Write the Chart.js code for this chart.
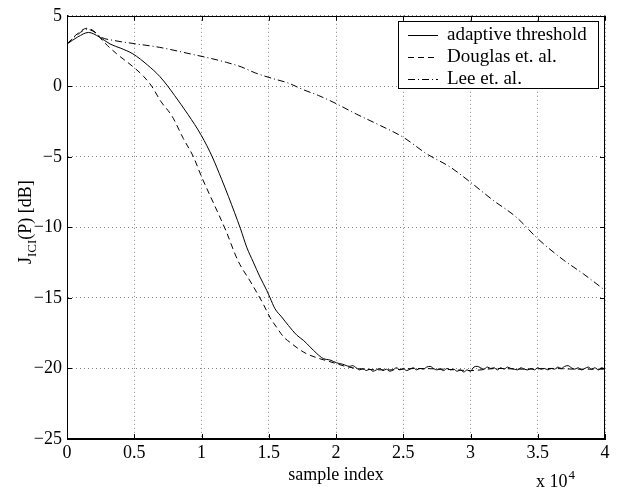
<!DOCTYPE html>
<html>
<head>
<meta charset="utf-8">
<script src="https://cdn.jsdelivr.net/npm/chart.js@4/dist/chart.umd.min.js"></script>
<style>
  body { margin: 0; background: #fff; }
  canvas { display: block; }
</style>
</head>
<body>
<canvas id="chart" width="619" height="488"></canvas>
<script>
// Datos (indice de muestra, dB)
const adaptiveX = [0, 800, 1600, 2400, 3200, 4000, 4900, 6000, 6900, 7500, 8000, 9000, 10000, 10800, 11500, 12000, 12900, 13360, 13850, 14350, 14850, 15100, 15460, 15960, 16450, 17100, 17570, 18070, 18570, 19060, 19550, 20050, 20500,
  21000, 21250, 21500, 21750, 22000, 22250, 22500, 22750, 23000, 23250, 23500, 23750, 24000, 24250, 24500, 24750, 25000, 25250, 25500, 25750, 26000, 26250, 26500, 26750, 27000, 27250, 27500, 27750, 28000, 28250, 28500, 28750, 29000, 29250, 29500, 29750, 30000, 30250, 30500, 30750, 31000, 31250, 31500, 31750, 32000, 32250, 32500, 32750, 33000, 33250, 33500, 33750, 34000, 34250, 34500, 34750, 35000, 35250, 35500, 35750, 36000, 36250, 36500, 36750, 37000, 37250, 37500, 37750, 38000, 38250, 38500, 38750, 39000, 39250, 39500, 39750, 40000];
const adaptiveY = [3.0, 3.5, 3.82, 3.5, 3.0, 2.7, 2.3, 1.5, 0.7, 0.0, -0.65, -2.0, -3.5, -5.0, -6.6, -7.8, -10.1, -11.4, -12.46, -13.52, -14.46, -15.0, -15.76, -16.35, -16.94, -17.65, -18.0, -18.47, -18.94, -19.3, -19.4, -19.6, -19.7,
  -19.85, -19.8, -19.95, -20.1, -20.0, -20.15, -20.05, -20.2, -20.1, -20.0, -20.15, -20.05, -20.2, -20.1, -19.95, -20.1, -20.0, -20.15, -20.05, -19.95, -20.1, -20.0, -20.05, -19.9, -19.85, -20.0, -20.1, -20.05, -20.15, -20.0, -20.1, -20.05, -20.2, -20.1, -20.25, -20.1, -20.2, -19.9, -19.85, -19.95, -20.05, -19.9, -20.0, -19.95, -20.1, -19.95, -20.05, -19.9, -20.0, -20.05, -20.1, -19.95, -20.05, -20.1, -20.0, -20.1, -19.95, -20.05, -20.0, -20.1, -20.0, -20.05, -19.9, -20.0, -19.85, -19.8, -19.95, -20.05, -19.95, -20.1, -20.0, -19.9, -20.05, -19.95, -20.1, -19.95, -20.05];

const douglasX = [0, 800, 1500, 2200, 2500, 3000, 3700, 4300, 4900, 5700, 6300, 7000, 7800, 8650, 9400, 10000, 11000, 11800, 12700, 13700, 14600, 15100, 15600, 16100, 16650, 17200, 17800, 18600, 19300, 20000, 20700, 22000, 24000, 26000, 28000, 30000, 32000, 34000, 36000, 38000, 40000];
const douglasY = [3.0, 3.75, 4.12, 3.75, 3.4, 2.9, 2.3, 1.85, 1.4, 0.7, 0.0, -1.1, -2.1, -3.7, -5.0, -6.4, -8.5, -10.2, -12.34, -13.94, -15.45, -16.4, -17.1, -17.76, -18.2, -18.6, -18.95, -19.25, -19.45, -19.65, -19.85, -20.05, -20.1, -20.0, -20.05, -20.15, -20.0, -20.05, -20.0, -20.05, -20.05];

const leeX = [0, 700, 1500, 2200, 2500, 3500, 4900, 6900, 9400, 10600, 11850, 12950, 14000, 15300, 16400, 17600, 18700, 19850, 21500, 23300, 25000, 26750, 28500, 30000, 31700, 33400, 35000, 36900, 38400, 40000];
const leeY = [3.0, 3.6, 4.05, 3.75, 3.5, 3.25, 3.04, 2.76, 2.25, 2.0, 1.7, 1.38, 0.95, 0.55, 0.25, -0.25, -0.65, -1.15, -1.96, -2.78, -3.61, -4.79, -5.73, -6.8, -8.09, -9.27, -10.8, -12.3, -13.3, -14.46];

const seriesLabels = ['adaptive threshold', 'Douglas et. al.', 'Lee et. al.'];
const xTicks = [0, 5000, 10000, 15000, 20000, 25000, 30000, 35000, 40000];
const yTicks = [-25, -20, -15, -10, -5, 0, 5];

const serif = 'Liberation Serif';

function toPoints(xs, ys) {
  return xs.map((x, i) => ({ x: x, y: ys[i] }));
}

// Marco, marcas hacia dentro, leyenda y etiquetas especiales
const matlabStyle = {
  id: 'matlabStyle',
  afterDraw(chart) {
    const ctx = chart.ctx;
    const a = chart.chartArea;
    const xs = chart.scales.x;
    const ys = chart.scales.y;
    ctx.save();

    // caja
    ctx.strokeStyle = '#000';
    ctx.lineWidth = 1;
    ctx.strokeRect(Math.round(a.left) + 0.5, Math.round(a.top) + 0.5,
      Math.round(a.right - a.left) - 1, Math.round(a.bottom - a.top) - 1);

    // marcas
    const tl = 5;
    ctx.beginPath();
    xTicks.forEach(v => {
      const px = Math.round(xs.getPixelForValue(v)) + 0.5;
      ctx.moveTo(px, a.bottom); ctx.lineTo(px, a.bottom - tl);
      ctx.moveTo(px, a.top); ctx.lineTo(px, a.top + tl);
    });
    yTicks.forEach(v => {
      const py = Math.round(ys.getPixelForValue(v)) + 0.5;
      ctx.moveTo(a.left, py); ctx.lineTo(a.left + tl, py);
      ctx.moveTo(a.right, py); ctx.lineTo(a.right - tl, py);
    });
    ctx.stroke();

    // etiqueta del eje y con subindice
    ctx.fillStyle = '#000';
    ctx.translate(31, 264);
    ctx.rotate(-Math.PI / 2);
    ctx.textBaseline = 'alphabetic';
    ctx.textAlign = 'left';
    ctx.font = '18px "' + serif + '"';
    ctx.fillText('J', 0, 0);
    let w = ctx.measureText('J').width;
    ctx.font = '13px "' + serif + '"';
    ctx.fillText('ICI', w, 5);
    w += ctx.measureText('ICI').width;
    ctx.font = '18px "' + serif + '"';
    ctx.fillText('(P) [dB]', w, 0);
    ctx.setTransform(1, 0, 0, 1, 0, 0);

    // multiplicador x 10^4
    ctx.font = '18px "' + serif + '"';
    ctx.fillText('x 10', 536, 487);
    const wm = ctx.measureText('x 10').width;
    ctx.font = '13px "' + serif + '"';
    ctx.fillText('4', 536 + wm + 1, 479);

    // leyenda
    const lx = 398.5, ly = 21.5, lw = 200, lh = 67;
    ctx.fillStyle = '#fff';
    ctx.fillRect(lx, ly, lw, lh);
    ctx.strokeStyle = '#000';
    ctx.lineWidth = 1;
    ctx.strokeRect(lx, ly, lw, lh);
    ctx.font = '19px "' + serif + '"';
    ctx.textBaseline = 'middle';
    const rows = [35, 57, 79];
    chart.data.datasets.forEach((ds, i) => {
      ctx.beginPath();
      ctx.setLineDash(ds.borderDash || []);
      ctx.moveTo(408, rows[i] + 0.5);
      ctx.lineTo(438, rows[i] + 0.5);
      ctx.stroke();
      ctx.setLineDash([]);
      ctx.fillStyle = '#000';
      ctx.fillText(ds.label, 447, rows[i]);
    });
    ctx.restore();
  }
};

const gridStyle = { color: 'rgba(0,0,0,0.5)', lineWidth: 1, drawTicks: false };
const borderStyle = { display: true, color: '#000', width: 1, dash: [1, 3] };

new Chart(document.getElementById('chart'), {
  type: 'line',
  data: {
    datasets: [
      {
        label: seriesLabels[0],
        data: toPoints(adaptiveX, adaptiveY),
        borderColor: '#000',
        borderWidth: 1,
        pointRadius: 0,
        cubicInterpolationMode: 'monotone',
        borderDash: []
      },
      {
        label: seriesLabels[1],
        data: toPoints(douglasX, douglasY),
        borderColor: '#000',
        borderWidth: 1,
        pointRadius: 0,
        cubicInterpolationMode: 'monotone',
        borderDash: [6, 4]
      },
      {
        label: seriesLabels[2],
        data: toPoints(leeX, leeY),
        borderColor: '#000',
        borderWidth: 1,
        pointRadius: 0,
        cubicInterpolationMode: 'monotone',
        borderDash: [7, 3, 1, 3]
      }
    ]
  },
  options: {
    responsive: false,
    animation: false,
    events: [],
    layout: { padding: { top: 15, right: 14, left: 0, bottom: 0 } },
    plugins: {
      legend: { display: false },
      tooltip: { enabled: false }
    },
    scales: {
      x: {
        type: 'linear',
        min: 0,
        max: 40000,
        afterBuildTicks: scale => { scale.ticks = xTicks.map(v => ({ value: v })); },
        afterFit: scale => { scale.height = 49; },
        ticks: {
          color: '#000',
          font: { family: serif, size: 18 },
          padding: 3,
          maxRotation: 0,
          callback: v => String(v / 10000)
        },
        grid: gridStyle,
        border: borderStyle,
        title: {
          display: true,
          text: 'sample index',
          color: '#000',
          font: { family: serif, size: 18 },
          padding: { top: 0, bottom: 2 }
        }
      },
      y: {
        type: 'linear',
        min: -25,
        max: 5,
        afterBuildTicks: scale => { scale.ticks = yTicks.map(v => ({ value: v })); },
        afterFit: scale => { scale.width = 67; },
        ticks: {
          color: '#000',
          font: { family: serif, size: 18 },
          padding: 5,
          callback: v => (v < 0 ? '\u2212' + Math.abs(v) : String(v))
        },
        grid: gridStyle,
        border: borderStyle
      }
    }
  },
  plugins: [matlabStyle]
});
</script>
</body>
</html>
